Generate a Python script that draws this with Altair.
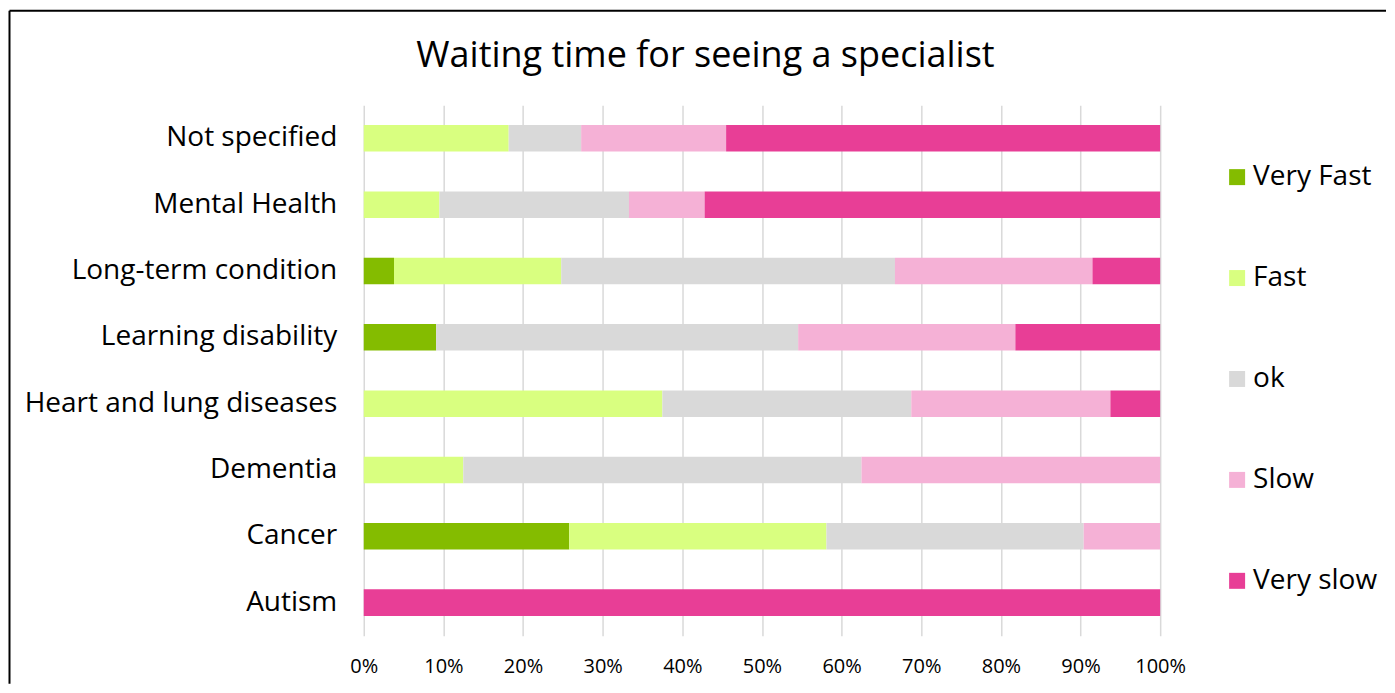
import altair as alt
import pandas as pd

categories = ["Autism", "Cancer", "Dementia", "Heart and lung diseases",
              "Learning disability", "Long-term condition", "Mental Health", "Not specified"]
series = ["Very Fast", "Fast", "ok", "Slow", "Very slow"]
very_fast = [0, 25.8, 0, 0, 9.1, 3.8, 0, 0]
fast = [0, 32.3, 12.5, 37.5, 0, 21.0, 9.5, 18.2]
ok = [0, 32.3, 50.0, 31.25, 45.5, 41.9, 23.8, 9.1]
slow = [0, 9.6, 37.5, 25.0, 27.3, 24.8, 9.5, 18.2]
very_slow = [100, 0, 0, 6.25, 18.2, 8.5, 57.2, 54.5]
colors = ["#84BC00", "#D9FF80", "#D9D9D9", "#F5B1D6", "#E83E96"]

rows = []
for si, (name, vals) in enumerate(zip(series, [very_fast, fast, ok, slow, very_slow])):
    for c, v in zip(categories, vals):
        if v > 0:
            rows.append({"category": c, "series": name, "value": v, "order": si})
df = pd.DataFrame(rows)

FONT = "Open Sans"
W, H = 797, 531

bars = alt.Chart(df).mark_bar().encode(
    x=alt.X("value:Q", stack="normalize",
            scale=alt.Scale(domain=[0, 1], nice=False),
            axis=alt.Axis(title=None, format=".0%", values=[i / 10 for i in range(11)],
                          grid=True, gridColor="#D9D9D9", gridWidth=1.5,
                          domain=False, ticks=False, labelFontSize=20, labelFont=FONT,
                          labelColor="#000000", labelPadding=21, labelFlush=False,
                          labelOverlap=False)),
    y=alt.Y("category:N", sort=list(reversed(categories)),
            scale=alt.Scale(paddingInner=0.6, paddingOuter=0.3),
            axis=alt.Axis(title=None, domain=False, ticks=False, labelFontSize=28,
                          labelFont=FONT, labelColor="#000000", labelPadding=27,
                          labelLimit=400)),
    color=alt.Color("series:N", scale=alt.Scale(domain=series, range=colors),
                    legend=alt.Legend(title=None, orient="none", legendX=860, legendY=58,
                                      symbolType="square", symbolSize=256,
                                      symbolStrokeWidth=0, labelFontSize=28,
                                      labelFont=FONT, labelColor="#000000",
                                      labelOffset=2, rowPadding=73, padding=0)),
    order=alt.Order("order:Q", sort="ascending"),
)

one = alt.Data(values=[{"a": 1}])
left_rule = alt.Chart(one).mark_rule(color="#000000", strokeWidth=2).encode(
    x=alt.value(-354.5), y=alt.value(-94.5), y2=alt.value(579))
top_rule = alt.Chart(one).mark_rule(color="#000000", strokeWidth=2).encode(
    x=alt.value(-354.5), x2=alt.value(1023), y=alt.value(-94.5))
title = alt.Chart(one).mark_text(text="Waiting time for seeing a specialist",
                                 font=FONT, fontSize=36, color="#000000",
                                 align="center", baseline="middle").encode(
    x=alt.value(342), y=alt.value(-49))

chart = alt.layer(bars, left_rule, top_rule, title).properties(
    width=W, height=H, background="#FFFFFF",
    padding={"left": 0, "top": 1, "right": 0, "bottom": 0}
).configure_view(stroke="transparent", strokeWidth=0)

chart.save("out.html", embed_options={"renderer": "svg", "actions": False})
